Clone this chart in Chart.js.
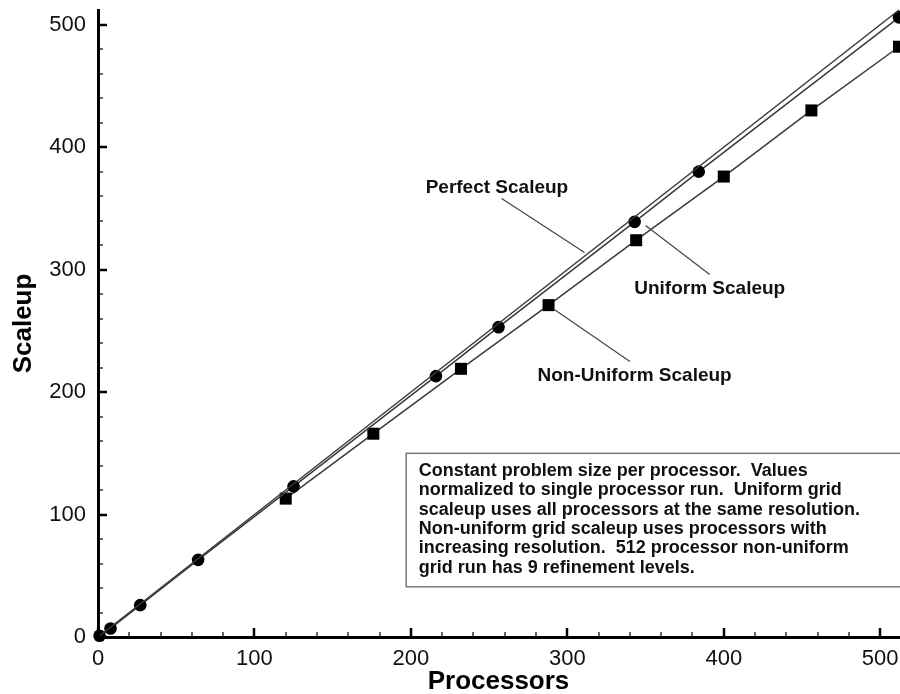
<!DOCTYPE html>
<html>
<head>
<meta charset="UTF-8">
<title>Scaleup</title>
<script src="https://cdn.jsdelivr.net/npm/chart.js@4/dist/chart.umd.min.js"></script>
<style>
  html, body { margin: 0; padding: 0; background: #fff; }
  #wrap { width: 900px; height: 694px; }
</style>
</head>
<body>
<div id="wrap"><canvas id="myChart" width="900" height="694"></canvas></div>
<script>
// values
var perfectX = [0, 512];
var perfectY = [0, 512];
var uniformX = [1, 8, 27, 64, 125, 216, 256, 343, 384, 512];
var uniformY = [1, 7, 26, 63, 123, 213, 253, 339, 380, 506];
var nonUniformX = [120, 176, 232, 288, 344, 400, 456, 512];
var nonUniformY = [113, 166, 219, 271, 324, 376, 430, 482];
var majorTicks = [0, 100, 200, 300, 400, 500];

var noteLines = [
    'Constant problem size per processor.  Values',
    'normalized to single processor run.  Uniform grid',
    'scaleup uses all processors at the same resolution.',
    'Non-uniform grid scaleup uses processors with',
    'increasing resolution.  512 processor non-uniform',
    'grid run has 9 refinement levels.'
];

// labels with leader lines, in data units
var callouts = [
    { text: 'Perfect Scaleup', x: 255, y: 367, from: [258, 358], to: [311, 314] },
    { text: 'Uniform Scaleup', x: 391, y: 284, from: [350, 336], to: [391, 296] },
    { text: 'Non-Uniform Scaleup', x: 343, y: 213, from: [291, 268], to: [340, 225] }
];

function pts(xs, ys) {
    return xs.map(function (x, i) { return { x: x, y: ys[i] }; });
}

var lineColor = '#3a3a3a';
var fam = '"Liberation Sans", Arial, sans-serif';

// inward tick marks, major every 100 and minor every 20
var innerTicks = {
    id: 'innerTicks',
    afterDraw: function (chart) {
        var ctx = chart.ctx, xs = chart.scales.x, ys = chart.scales.y;
        var a = chart.chartArea;
        ctx.save();
        ctx.strokeStyle = '#000';
        for (var v = 0; v <= 512; v += 20) {
            var major = v % 100 === 0;
            ctx.lineWidth = major ? 2.5 : 1.2;
            var len = major ? 9 : 5;
            var px = Math.round(xs.getPixelForValue(v));
            ctx.beginPath();
            ctx.moveTo(px, a.bottom);
            ctx.lineTo(px, a.bottom - len);
            ctx.stroke();
            var py = Math.round(ys.getPixelForValue(v));
            ctx.beginPath();
            ctx.moveTo(a.left, py);
            ctx.lineTo(a.left + len, py);
            ctx.stroke();
        }
        ctx.restore();
    }
};

var notes = {
    id: 'notes',
    afterDraw: function (chart) {
        var ctx = chart.ctx, xs = chart.scales.x, ys = chart.scales.y;
        ctx.save();
        // callouts
        ctx.fillStyle = '#111';
        ctx.font = 'bold 19px ' + fam;
        ctx.textAlign = 'center';
        ctx.textBaseline = 'middle';
        ctx.strokeStyle = '#444';
        ctx.lineWidth = 1.2;
        callouts.forEach(function (c) {
            ctx.fillText(c.text, xs.getPixelForValue(c.x), ys.getPixelForValue(c.y));
            ctx.beginPath();
            ctx.moveTo(xs.getPixelForValue(c.from[0]), ys.getPixelForValue(c.from[1]));
            ctx.lineTo(xs.getPixelForValue(c.to[0]), ys.getPixelForValue(c.to[1]));
            ctx.stroke();
        });
        // note box
        var left = xs.getPixelForValue(197), right = xs.getPixelForValue(525);
        var top = ys.getPixelForValue(150), bottom = ys.getPixelForValue(41);
        ctx.fillStyle = '#fff';
        ctx.fillRect(left, top, right - left, bottom - top);
        ctx.strokeStyle = '#777';
        ctx.lineWidth = 1.5;
        ctx.strokeRect(left, top, right - left, bottom - top);
        ctx.fillStyle = '#111';
        ctx.font = 'bold 18px ' + fam;
        ctx.textAlign = 'left';
        var tx = xs.getPixelForValue(205);
        var ty = ys.getPixelForValue(135.5);
        noteLines.forEach(function (s, i) {
            ctx.fillText(s, tx, ty + i * 19.3);
        });
        ctx.restore();
    }
};

function noPad(s) {
    s.paddingTop = 0;
    s.paddingBottom = 0;
    s.paddingLeft = 0;
    s.paddingRight = 0;
}

var ctx = document.getElementById('myChart').getContext('2d');
new Chart(ctx, {
    type: 'scatter',
    data: {
        datasets: [{
            label: 'Perfect Scaleup',
            data: pts(perfectX, perfectY),
            showLine: true,
            borderColor: lineColor,
            borderWidth: 1.5,
            pointRadius: 0,
            clip: false
        }, {
            label: 'Uniform Scaleup',
            data: pts(uniformX, uniformY),
            showLine: true,
            borderColor: lineColor,
            borderWidth: 1.5,
            pointStyle: 'circle',
            pointRadius: 6.3,
            pointBackgroundColor: '#000',
            pointBorderColor: '#000',
            pointBorderWidth: 0,
            clip: false
        }, {
            label: 'Non-Uniform Scaleup',
            data: pts(nonUniformX, nonUniformY),
            showLine: true,
            borderColor: lineColor,
            borderWidth: 1.5,
            pointStyle: 'rect',
            pointRadius: 8.5,
            pointBackgroundColor: '#000',
            pointBorderColor: '#000',
            pointBorderWidth: 0,
            clip: false
        }]
    },
    options: {
        responsive: false,
        animation: false,
        events: [],
        layout: { autoPadding: false, padding: { top: 10, right: 1, left: 0, bottom: 0 } },
        plugins: {
            legend: { display: false },
            tooltip: { enabled: false }
        },
        scales: {
            x: {
                type: 'linear',
                min: 0,
                max: 512,
                afterBuildTicks: function (s) { s.ticks = majorTicks.map(function (v) { return { value: v }; }); },
                afterFit: function (s) { s.height = 57; noPad(s); },
                grid: { display: false, drawTicks: false },
                border: { display: true, color: '#000', width: 3 },
                ticks: { color: '#111', font: { family: fam, size: 22 }, padding: 9, maxRotation: 0 },
                title: {
                    display: true,
                    text: 'Processors',
                    color: '#000',
                    font: { family: fam, size: 26, weight: 'bold' },
                    padding: { top: 0, bottom: -3 }
                }
            },
            y: {
                type: 'linear',
                min: 0,
                max: 512,
                afterBuildTicks: function (s) { s.ticks = majorTicks.map(function (v) { return { value: v }; }); },
                afterFit: function (s) { s.width = 98; noPad(s); },
                grid: { display: false, drawTicks: false },
                border: { display: true, color: '#000', width: 3 },
                ticks: { color: '#111', font: { family: fam, size: 22 }, padding: 12 },
                title: {
                    display: true,
                    text: 'Scaleup',
                    color: '#000',
                    font: { family: fam, size: 26, weight: 'bold' },
                    padding: { top: 8, bottom: 0 }
                }
            }
        }
    },
    plugins: [innerTicks, notes]
});
</script>
</body>
</html>
